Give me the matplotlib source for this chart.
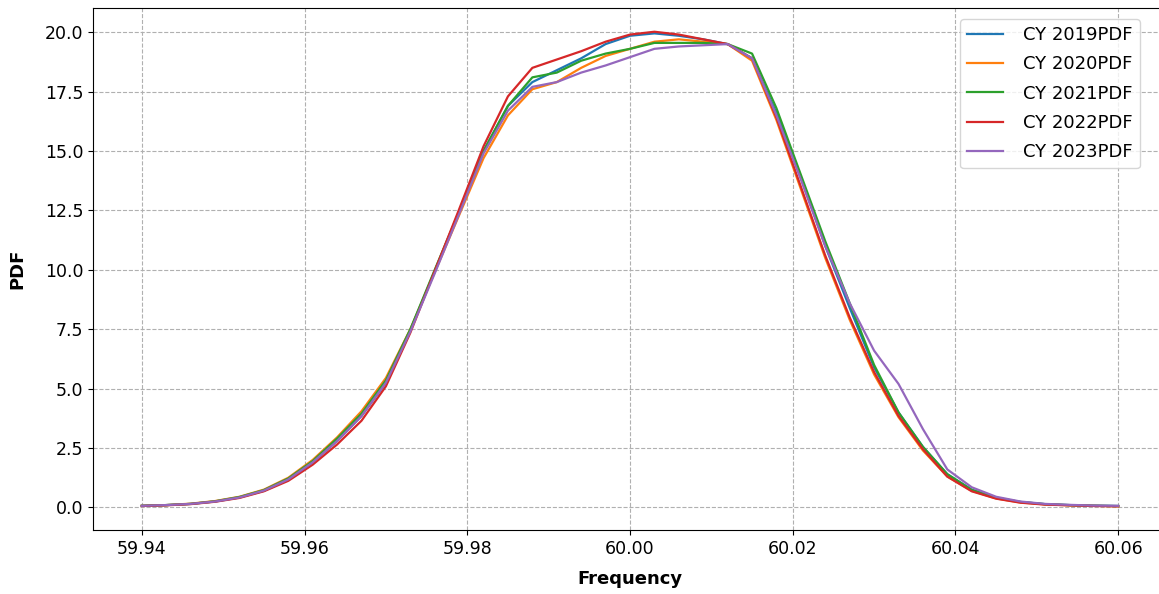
import matplotlib
matplotlib.use("Agg")
import matplotlib.pyplot as plt
import numpy as np


# frequency bins, 59.94 .. 60.06 Hz in 0.003 Hz steps
frequency = np.linspace(59.94, 60.06, 41)

labels = ["CY 2019PDF", "CY 2020PDF", "CY 2021PDF", "CY 2022PDF", "CY 2023PDF"]

pdf_2019 = [0.07, 0.10, 0.15, 0.25, 0.42, 0.70, 1.18, 1.90, 2.80, 3.85, 5.25, 7.45, 9.95, 12.45, 15.0,
            16.9, 17.9, 18.4, 18.9, 19.5, 19.85, 19.95, 19.85, 19.7, 19.5, 18.9,
            16.6, 13.9, 11.0, 8.4, 5.9, 4.0, 2.55, 1.4, 0.75, 0.41, 0.23, 0.14, 0.10, 0.08, 0.06]
pdf_2020 = [0.07, 0.10, 0.16, 0.27, 0.45, 0.75, 1.25, 2.0, 2.95, 4.05, 5.45, 7.5, 9.9, 12.3, 14.7,
            16.5, 17.6, 17.9, 18.5, 19.0, 19.3, 19.6, 19.7, 19.6, 19.5, 18.8,
            16.3, 13.4, 10.5, 7.9, 5.6, 3.8, 2.4, 1.3, 0.70, 0.38, 0.21, 0.13, 0.09, 0.07, 0.05]
pdf_2021 = [0.07, 0.10, 0.15, 0.26, 0.44, 0.73, 1.22, 1.95, 2.9, 3.95, 5.35, 7.5, 10.0, 12.45, 15.0,
            16.9, 18.1, 18.3, 18.8, 19.1, 19.3, 19.55, 19.55, 19.55, 19.5, 19.1,
            16.8, 14.0, 11.2, 8.6, 6.0, 4.0, 2.55, 1.4, 0.74, 0.41, 0.23, 0.14, 0.10, 0.07, 0.06]
pdf_2022 = [0.06, 0.09, 0.14, 0.24, 0.40, 0.68, 1.12, 1.8, 2.65, 3.65, 5.1, 7.35, 9.95, 12.55, 15.2,
            17.3, 18.5, 18.85, 19.2, 19.6, 19.9, 20.02, 19.9, 19.7, 19.5, 18.9,
            16.4, 13.5, 10.6, 8.0, 5.7, 3.85, 2.45, 1.3, 0.68, 0.37, 0.20, 0.12, 0.09, 0.06, 0.05]
pdf_2023 = [0.07, 0.10, 0.15, 0.25, 0.42, 0.71, 1.18, 1.9, 2.8, 3.85, 5.25, 7.4, 9.85, 12.35, 14.9,
            16.7, 17.7, 17.9, 18.3, 18.6, 18.95, 19.3, 19.4, 19.45, 19.5, 18.9,
            16.5, 13.8, 11.0, 8.6, 6.6, 5.2, 3.3, 1.6, 0.85, 0.45, 0.25, 0.15, 0.11, 0.08, 0.07]

series = [pdf_2019, pdf_2020, pdf_2021, pdf_2022, pdf_2023]


def main() -> None:
    fig = plt.figure(figsize=(11.59, 5.94), dpi=100)
    # axes runs slightly past the right edge, as in the reference crop
    axis = fig.add_axes([93 / 1159, 64 / 594, 1074 / 1159, 522 / 594])

    for values, label in zip(series, labels):
        axis.plot(frequency, values, linewidth=1.6, label=label)

    axis.set_xticks([59.94, 59.96, 59.98, 60.00, 60.02, 60.04, 60.06])
    axis.xaxis.set_major_formatter(plt.FormatStrFormatter("%.2f"))
    axis.tick_params(labelsize=12.5)
    axis.set_xlabel("Frequency", fontsize=13, fontweight="bold", labelpad=9)
    axis.set_ylabel("PDF", fontsize=13, fontweight="bold", labelpad=13)
    axis.grid(True, linestyle="--", color="#b0b0b0", linewidth=0.8)

    axis.legend(
        loc="upper right",
        bbox_to_anchor=(1149 / 1159, 1 - 10 / 594),
        bbox_transform=fig.transFigure,
        fontsize=13,
        labelspacing=0.62,
        handletextpad=1.1,
    )

    fig.savefig("out.png", dpi=100)
    plt.close(fig)


if __name__ == "__main__":
    main()
